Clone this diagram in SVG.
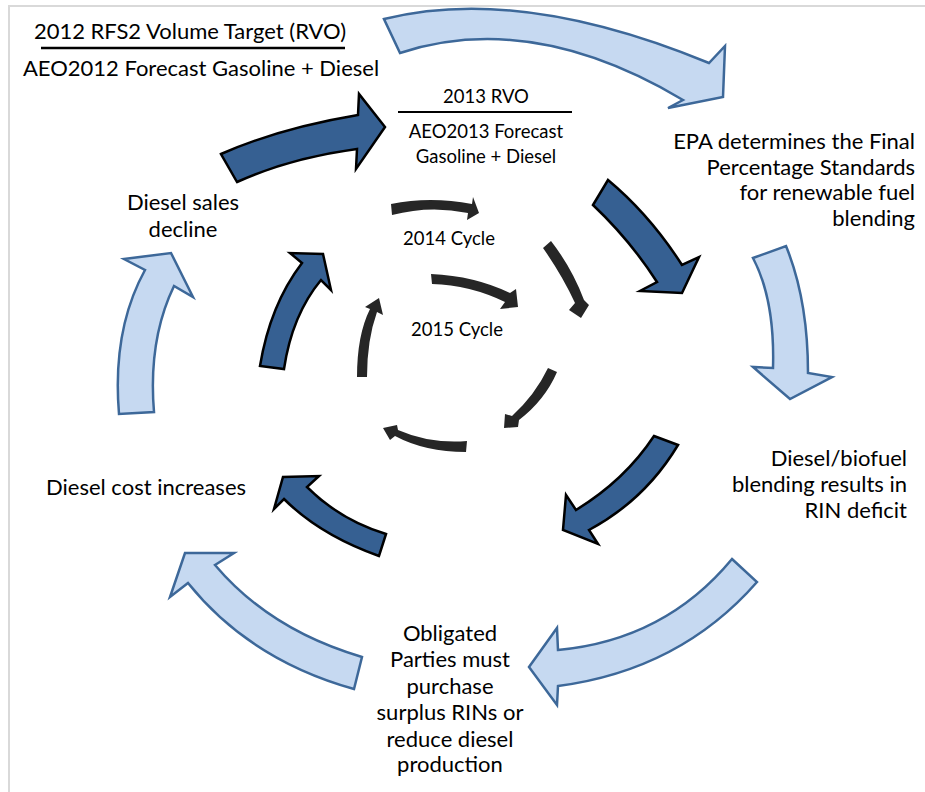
<svg xmlns="http://www.w3.org/2000/svg" width="925" height="792" viewBox="0 0 925 792">
<style>
.lt{fill:#c6d9f1;stroke:#3d6899;stroke-width:2.5;stroke-linejoin:miter}
.dk{fill:#366092;stroke:#000;stroke-width:2.5;stroke-linejoin:miter}
.cy{fill:#262626}
text{font-family:Lato,"Open Sans",sans-serif;fill:#000}
.b{font-size:22px}
.s{font-size:18.5px}
.r{text-anchor:end}
.m{text-anchor:middle}
</style>
<rect width="925" height="792" fill="#fff"/>
<g id="frame" fill="none" stroke="#d9d9d9" stroke-width="2">
<path d="M9,792 V6 H925"/>
</g>
<g id="connectors">
<path class="lt" d="M384,19 Q520,-15 709,63 L725,46 L723,97 L668,108 L683,100 Q532,10 400,53 Z"/>
<path class="lt" d="M753,258 L786,246 Q808,300 808,373 L832,377 L790,399 L753,367 L773,368 Q775,300 753,258 Z"/>
<path class="lt" d="M732,559 L757,582 Q680,670 558,686 L557,705 L529,667 L557,628 L558,650 Q665,640 732,559 Z"/>
<path class="lt" d="M362,657 L354,689 Q250,660 188,583 L170,597 L185,553 L234,553 L215,565 Q270,630 362,657 Z"/>
<path class="lt" d="M119,414 Q112,330 145,270 L124,259 L171,253 L193,297 L174,286 Q148,340 154,412 Z"/>
<path class="dk" d="M221,154 Q280,128 358,115 L359,94 L385,127 L356,169 L357,149 Q290,158 237,182 Z"/>
<path class="dk" d="M593,205 L608,180 Q650,215 682,265 L699,257 L682,293 L640,291 L657,282 Q630,240 593,205 Z"/>
<path class="dk" d="M654,436 L678,445 Q645,500 589,530 L598,544 L563,530 L566,495 L576,510 Q625,480 654,436 Z"/>
<path class="dk" d="M386,534 L379,556 Q320,535 284,499 L274,509 L283,477 L319,476 L307,487 Q340,520 386,534 Z"/>
<path class="dk" d="M260,366 Q270,305 302,263 L290,253 L323,254 L331,290 L321,280 Q292,315 284,369 Z"/>
<path class="cy" d="M391,204 Q430,196 472,204 L473,197 L479,213 L467,220 L468,213 Q430,205 392,215 Z"/>
<path class="cy" d="M431,274 Q475,276 510,293 L516,289 L518,307 L500,309 L505,302 Q470,285 432,284 Z"/>
<path class="cy" d="M543,248 L551,241 Q572,268 584,300 L589,305 L581,318 L569,310 L575,303 Q562,275 543,248 Z"/>
<path class="cy" d="M548,368 L557,372 Q545,400 519,420 L518,427 L504,428 L505,414 L512,416 Q535,395 548,368 Z"/>
<path class="cy" d="M467,441 L466,452 Q425,452 395,436 L390,440 L383,428 L397,425 L398,430 Q430,444 467,441 Z"/>
<path class="cy" d="M357,377 Q357,335 370,309 L365,307 L379,298 L383,315 L377,312 Q367,340 367,377 Z"/>
</g>
<g id="rvo2012">
<text class="b m" x="190" y="39">2012 RFS2 Volume Target (RVO)</text>
<line x1="41" y1="48" x2="345" y2="48" stroke="#000" stroke-width="2.5"/>
<text class="b m" x="201" y="76">AEO2012 Forecast Gasoline + Diesel</text>
</g>
<g id="rvo2013">
<text class="s m" x="486" y="103">2013 RVO</text>
<line x1="398" y1="112" x2="572" y2="112" stroke="#000" stroke-width="2"/>
<text class="s m" x="486" y="138">AEO2013 Forecast</text>
<text class="s m" x="486" y="163">Gasoline + Diesel</text>
</g>
<g id="epa">
<text class="b r" x="915" y="149">EPA determines the Final</text>
<text class="b r" x="915" y="175">Percentage Standards</text>
<text class="b r" x="915" y="200">for renewable fuel</text>
<text class="b r" x="915" y="226">blending</text>
</g>
<g id="deficit">
<text class="b r" x="907" y="466">Diesel/biofuel</text>
<text class="b r" x="907" y="492">blending results in</text>
<text class="b r" x="907" y="518">RIN deficit</text>
</g>
<g id="obligated">
<text class="b m" x="450" y="641">Obligated</text>
<text class="b m" x="450" y="667">Parties must</text>
<text class="b m" x="450" y="694">purchase</text>
<text class="b m" x="450" y="720">surplus RINs or</text>
<text class="b m" x="450" y="747">reduce diesel</text>
<text class="b m" x="450" y="772">production</text>
</g>
<g id="cost">
<text class="b" x="46" y="495">Diesel cost increases</text>
</g>
<g id="sales">
<text class="b m" x="183" y="210">Diesel sales</text>
<text class="b m" x="183" y="237">decline</text>
</g>
<g id="cycle2014">
<text class="s m" x="449" y="245">2014 Cycle</text>
</g>
<g id="cycle2015">
<text class="s m" x="457" y="336">2015 Cycle</text>
</g>
</svg>
